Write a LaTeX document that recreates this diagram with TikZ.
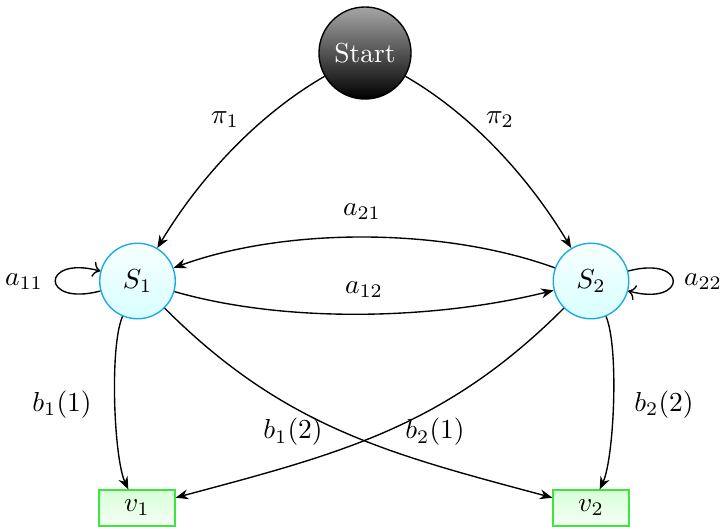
\documentclass[tikz,border=0pt]{standalone}
\usetikzlibrary{arrows.meta}
\definecolor{statecyan}{RGB}{25,170,230}
\definecolor{obsgreen}{RGB}{60,230,60}
\begin{document}
\begin{tikzpicture}[x=0.364pt,y=0.364pt,line width=0.5pt,
  startnode/.style={circle,draw=black,top color=black!35,bottom color=black,
    text=white,minimum size=33.5pt,inner sep=0pt},
  statenode/.style={circle,draw=statecyan,top color=cyan!3,bottom color=cyan!15,
    minimum size=27.5pt,inner sep=0pt},
  obsnode/.style={rectangle,draw=obsgreen,top color=green!15,bottom color=green!4,
    minimum width=27.6pt,minimum height=13pt,inner sep=0pt},
  arr/.style={-{Stealth[length=4.6pt,width=3.6pt]}},
  lbl/.style={inner sep=0pt}]
\useasboundingbox (0,0) rectangle (724,-526);
\node[startnode] (start) at (365,-53) {Start};
\node[statenode] (s1) at (137.5,-281) {$S_1$};
\node[statenode] (s2) at (591,-281) {$S_2$};
\node[obsnode] (v1) at (137,-508) {$v_1$};
\node[obsnode] (v2) at (591,-508) {$v_2$};

\draw[arr] (start) to[out=210,in=59,looseness=0.85] (s1);
\draw[arr] (start) to[out=-30,in=121,looseness=0.85] (s2);
\draw[arr] (s2) to[out=160,in=20,looseness=0.8] (s1);
\draw[arr] (s1) to[out=-16,in=194,looseness=0.8] (s2);
\draw[arr] (s1) to[out=247,in=115,looseness=0.5] (v1);
\draw[arr] (s2) to[out=293,in=65,looseness=0.5] (v2);
\draw[arr] (s1) to[out=-45,in=165] (v2);
\draw[arr] (s2) to[out=225,in=15] (v1);
\draw[->] (s1) to[loop left] (s1);
\draw[->] (s2) to[loop right] (s2);

\node[lbl] (lpi1) at (225,-120) {$\pi_1$};
\node[lbl] (lpi2) at (500,-120) {$\pi_2$};
\node[lbl] (la21) at (362,-212) {$a_{21}$};
\node[lbl] (la12) at (364,-290) {$a_{12}$};
\node[lbl] (la11) at (24,-282) {$a_{11}$};
\node[lbl] (la22) at (703,-282) {$a_{22}$};
\node[lbl] (lb11) at (62,-405) {$b_1(1)$};
\node[lbl] (lb22) at (664,-405) {$b_2(2)$};
\node[lbl] (lb12) at (293,-432) {$b_1(2)$};
\node[lbl] (lb21) at (435,-432) {$b_2(1)$};
\end{tikzpicture}
\end{document}
